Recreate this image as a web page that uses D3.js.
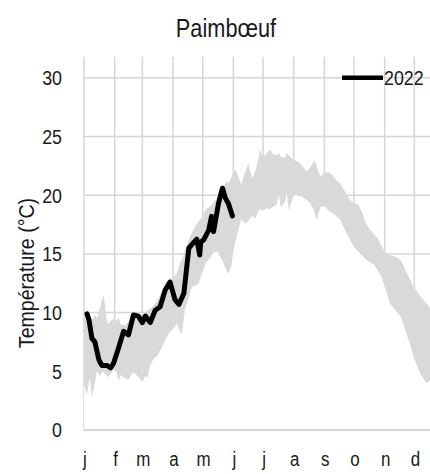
<!DOCTYPE html>
<html>
<head>
<meta charset="utf-8">
<script src="https://cdn.jsdelivr.net/npm/d3@7"></script>
<style>
  body { margin: 0; background: #fff; }
  text { font-family: "Liberation Sans", Arial, sans-serif; fill: #1a1a1a; }
</style>
</head>
<body>
<div id="chart"></div>
<script>
// month starts (day of year) and their labels
var monthDays = [0, 31, 59, 90, 120, 151, 181, 212, 243, 273, 304, 334];
var monthLabels = ["j", "f", "m", "a", "m", "j", "j", "a", "s", "o", "n", "d"];
var yTicks = [0, 5, 10, 15, 20, 25, 30];

// min / max envelope of previous years
var bandDays = [0, 3, 6, 8, 11, 13, 16, 18, 20, 22, 24, 27, 30, 33, 35, 37, 41, 45, 49, 52, 56, 59, 62, 64, 67, 70, 74,
  79, 83, 87, 90, 94, 97, 99, 102, 105, 109, 113, 116, 120, 123, 127, 131, 135, 138, 141, 144, 146, 149,
  151, 153, 156, 159, 163, 166, 170, 173, 176, 178, 181, 185, 188, 191, 195, 197, 199, 203, 205, 207,
  212, 216, 220, 225, 229, 233, 235, 237, 239, 243, 247, 251, 255, 259, 264, 269, 273, 277, 281, 285, 289,
  293, 297, 301, 305, 309, 313, 317, 320, 323, 326, 330, 333, 337, 340, 343, 346, 350, 355, 360, 365];
var bandMax = [10.0, 10.0, 9.6, 9.4, 9.8, 9.5, 10.4, 11.0, 11.5, 10.0, 9.0, 9.3, 9.5, 9.3, 9.6, 9.0, 8.9, 9.2, 9.8, 9.6, 9.8, 9.6, 10.0, 10.2, 10.3, 10.6, 11.0,
  11.8, 12.6, 12.9, 13.0, 13.4, 14.2, 14.5, 15.3, 16.0, 16.8, 17.4, 17.8, 18.2, 18.8, 19.0, 19.4, 19.8, 20.3, 20.6, 21.2, 21.0, 21.5,
  21.9, 22.2, 21.6, 20.9, 22.0, 22.7, 21.4, 22.0, 23.0, 23.9, 23.2, 23.6, 23.9, 23.5, 23.4, 23.6, 23.3, 23.2, 23.6, 23.4,
  23.0, 22.9, 22.6, 22.0, 22.4, 23.0, 22.6, 22.0, 21.6, 21.9, 22.0, 21.7, 21.3, 21.0, 20.3, 19.6, 19.3, 19.2, 18.6, 17.6, 17.1,
  16.7, 16.3, 15.6, 15.1, 14.9, 14.8, 14.7, 14.5, 14.0, 13.4, 12.8, 12.2, 11.8, 11.4, 11.1, 10.8, 10.4, 10.0, 9.6, 9.3];
var bandMin = [3.8, 3.0, 4.5, 2.8, 4.0, 5.1, 4.6, 4.9, 5.0, 4.7, 4.5, 4.8, 5.2, 4.9, 4.1, 4.7, 4.4, 4.3, 4.9, 4.8, 4.4, 4.1, 4.6, 4.5, 5.5, 6.0, 6.3,
  7.1, 7.8, 8.4, 8.6, 9.1, 8.4, 8.2, 10.3, 11.0, 12.2, 12.3, 12.5, 13.5, 14.2, 14.6, 15.1, 15.2, 14.7, 14.2, 13.6, 13.3, 14.0,
  15.3, 16.0, 17.0, 18.0, 17.6, 17.8, 18.3, 18.0, 18.6, 18.8, 18.7, 18.9, 18.8, 19.0, 19.2, 20.1, 19.0, 19.4, 20.2, 18.7,
  20.0, 20.0, 19.9, 19.6, 19.3, 18.6, 17.9, 18.4, 19.0, 19.1, 18.7, 18.5, 18.2, 17.9, 17.0, 16.2, 15.6, 15.2, 14.9, 14.5, 14.3,
  14.1, 13.6, 13.0, 12.0, 10.8, 10.4, 10.0, 9.7, 9.0, 8.2, 7.2, 6.3, 5.4, 4.8, 4.4, 4.0, 4.2, 4.4, 4.0, 3.9];

// 2022 series
var days2022 = [3, 5, 8, 11, 15, 18, 23, 27, 30, 35, 40, 45, 50, 55, 59, 62, 67, 72, 77, 82, 87, 92, 96, 101,
  106, 109, 114, 117, 118, 121, 126, 129, 131, 136, 140, 143, 146, 150];
var temp2022 = [9.9, 9.4, 7.8, 7.5, 6.0, 5.5, 5.5, 5.3, 5.7, 7.0, 8.4, 8.1, 9.8, 9.7, 9.15, 9.7, 9.15, 10.2, 10.5, 11.9, 12.6, 11.1, 10.7, 11.65,
  15.5, 15.8, 16.25, 14.9, 16.0, 16.2, 17.0, 18.2, 16.9, 19.3, 20.6, 19.75, 19.3, 18.24];

var W = 430, H = 474;
var svg = d3.select("#chart").append("svg")
    .attr("width", W)
    .attr("height", H);

svg.append("rect").attr("width", W).attr("height", H).attr("fill", "white");

var x = d3.scaleLinear().domain([0, 365]).range([84, 445]);
var y = d3.scaleLinear().domain([0, 31.8]).range([430, 56.7]);

var band = bandDays.map(function(d, i) { return { d: d, lo: bandMin[i], hi: bandMax[i] }; });
var line = days2022.map(function(d, i) { return { d: d, v: temp2022[i] }; });

var grid = svg.append("g").attr("stroke", "#d6d6d6").attr("stroke-width", 1.5);
grid.selectAll("line.h")
    .data(yTicks.slice(1))
    .enter().append("line")
    .attr("x1", 84).attr("x2", W)
    .attr("y1", y).attr("y2", y);
grid.selectAll("line.v")
    .data(monthDays)
    .enter().append("line")
    .attr("x1", x).attr("x2", x)
    .attr("y1", y(31.8)).attr("y2", y(0));

// white area under the minimum hides the grid, like the stacked chart it comes from
svg.append("path")
    .datum(band)
    .attr("fill", "white")
    .attr("d", d3.area()
        .x(function(d) { return x(d.d); })
        .y0(y(0))
        .y1(function(d) { return y(d.lo); }));

svg.append("path")
    .datum(band)
    .attr("fill", "#d9d9d9")
    .attr("d", d3.area()
        .x(function(d) { return x(d.d); })
        .y0(function(d) { return y(d.lo); })
        .y1(function(d) { return y(d.hi); }));

svg.append("line")
    .attr("x1", 84).attr("x2", W)
    .attr("y1", y(0)).attr("y2", y(0))
    .attr("stroke", "#c8c8c8").attr("stroke-width", 1.5);

svg.append("path")
    .datum(line)
    .attr("fill", "none")
    .attr("stroke", "#000")
    .attr("stroke-width", 5)
    .attr("stroke-linejoin", "round")
    .attr("stroke-linecap", "round")
    .attr("d", d3.line()
        .x(function(d) { return x(d.d); })
        .y(function(d) { return y(d.v); }));

// text is a bit narrower than Arial in the original
function label(txt, tx, ty, size, anchor, rot) {
  return svg.append("text")
      .attr("transform", "translate(" + tx + "," + ty + ") rotate(" + (rot || 0) + ") scale(0.87,1)")
      .attr("text-anchor", anchor)
      .style("font-size", size + "px")
      .text(txt);
}

yTicks.forEach(function(t) { label(t, 62, y(t) + 7.3, 20.5, "end"); });
monthDays.forEach(function(d, i) { label(monthLabels[i], x(d) + 1, 466, 19.5, "middle"); });

label("Paimbœuf", 226, 36.5, 25, "middle");
label("Température (°C)", 34, 273, 22.5, "middle", -90);

// legend
svg.append("line")
    .attr("x1", 342).attr("x2", 383)
    .attr("y1", y(30)).attr("y2", y(30))
    .attr("stroke", "#000").attr("stroke-width", 4.5);
label("2022", 384, y(30) + 7.5, 20.5, "start");
</script>
</body>
</html>
